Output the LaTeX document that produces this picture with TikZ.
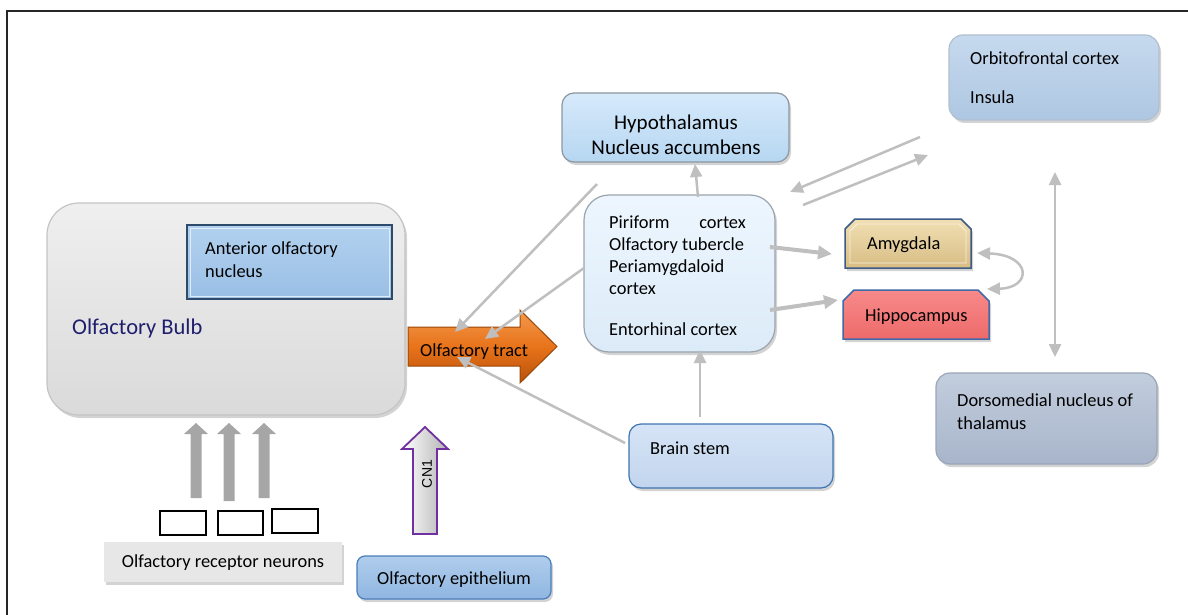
\documentclass[tikz,border=0pt]{standalone}
\usepackage{fontspec}
\setmainfont{Carlito}
\newfontfamily\arialf{Liberation Sans}
\usetikzlibrary{shadows,arrows.meta,calc}
\definecolor{cgray}{HTML}{BFBFBF}
\definecolor{agray}{HTML}{A6A6A6}
\definecolor{bulbA}{HTML}{EFEFEF}
\definecolor{bulbB}{HTML}{DADADA}
\definecolor{bulbD}{HTML}{C4C4C4}
\definecolor{aonA}{HTML}{B3D1EF}
\definecolor{aonB}{HTML}{99BFE5}
\definecolor{aonD}{HTML}{2F4B6B}
\definecolor{trA}{HTML}{F39A4E}
\definecolor{trM}{HTML}{E8731A}
\definecolor{trB}{HTML}{B9520B}
\definecolor{trD}{HTML}{984807}
\definecolor{cenA}{HTML}{EDF6FE}
\definecolor{cenB}{HTML}{DCEBF8}
\definecolor{cenD}{HTML}{9BA4AD}
\definecolor{hypA}{HTML}{D6EAFB}
\definecolor{hypB}{HTML}{B6D6F1}
\definecolor{hypD}{HTML}{8C96A0}
\definecolor{orbA}{HTML}{C6D9EE}
\definecolor{orbB}{HTML}{AEC7E2}
\definecolor{orbD}{HTML}{B0C0D0}
\definecolor{amyA}{HTML}{F0DFB4}
\definecolor{amyB}{HTML}{D8BD84}
\definecolor{amyD}{HTML}{3B5B86}
\definecolor{hipA}{HTML}{F88A8A}
\definecolor{hipB}{HTML}{EE6A6A}
\definecolor{hipD}{HTML}{4169A8}
\definecolor{dmA}{HTML}{C2CDDD}
\definecolor{dmB}{HTML}{A8B5CA}
\definecolor{dmD}{HTML}{9AA6B8}
\definecolor{bsA}{HTML}{D6E4F6}
\definecolor{bsB}{HTML}{C2D5EE}
\definecolor{bsD}{HTML}{3F74B0}
\definecolor{epA}{HTML}{B0CDEC}
\definecolor{epB}{HTML}{8FB6E1}
\definecolor{epD}{HTML}{4A7EBB}
\definecolor{ornF}{HTML}{E7E7E7}
\definecolor{navy}{HTML}{1F1F6E}
\definecolor{cnD}{HTML}{7030A0}
\tikzset{
  sh/.style={drop shadow={shadow xshift=2pt,shadow yshift=-3pt,opacity=0.35}},
  boxbase/.style={sh, inner sep=0pt, line width=1.2pt},
  conn/.style={draw=cgray, line width=2.5pt, -{Triangle[length=13pt,width=12pt]}},
  bigconn/.style={draw=cgray, line width=4pt, -{Triangle[length=14pt,width=13pt]}},
  dconn/.style={draw=cgray, line width=2.5pt, {Triangle[length=13pt,width=12pt]}-{Triangle[length=13pt,width=12pt]}},
  txt/.style={anchor=base west, inner sep=0pt},
  ctxt/.style={anchor=base, inner sep=0pt},
  neuron/.style={draw=black, line width=1.6pt, fill=white, inner sep=0pt},
  blockarrow/.style={fill=agray, draw=none},
}
\begin{document}
\begin{tikzpicture}[x=1pt,y=-1pt,font=\fontsize{18.4}{22}\selectfont]
\useasboundingbox (0,0) rectangle (1188,615);
\draw[line width=1.3pt, black!85] (7,615) -- (7,11) -- (1188,11);

% Olfactory bulb
\node[boxbase, draw=bulbD, top color=bulbA, bottom color=bulbB, rounded corners=32pt,
      minimum width=358pt, minimum height=212pt] (bulb) at (226,309) {};
\node[txt, text=navy, font=\fontsize{22.5}{26}\selectfont] (bulbT) at (72,334) {Olfactory Bulb};
% Anterior olfactory nucleus
\node[inner sep=0pt, draw=aonD, line width=1.8pt, top color=aonA, bottom color=aonB,
      minimum width=205pt, minimum height=74pt] (aon) at (289.5,262) {};
\draw[white!70!aonB, line width=0.8pt] ($(aon.north west)+(4,4)$) rectangle ($(aon.south east)+(-4,-4)$);
\node[txt] (aonT1) at (205,254) {Anterior olfactory};
\node[txt] (aonT2) at (205,277) {nucleus};

% Olfactory tract arrow
\draw[draw=trD, line width=1pt, top color=trA, bottom color=trB, middle color=trM]
  (408,327) -- (520,327) -- (520,310) -- (557,346.5) -- (520,383) -- (520,366) -- (408,366) -- cycle;
\node[txt] (tract) at (420,356) {Olfactory tract};

% Central cortex box
\node[boxbase, draw=cenD, top color=cenA, bottom color=cenB, rounded corners=25pt,
      minimum width=191pt, minimum height=157pt] (cortex) at (679.5,273.5) {};
\node[txt] (cT1a) at (609,228) {Piriform};
\node[anchor=base east, inner sep=0pt] (cT1b) at (746,228) {cortex};
\node[txt] (cT2) at (609,250) {Olfactory tubercle};
\node[txt] (cT3) at (609,272) {Periamygdaloid};
\node[txt] (cT4) at (609,294) {cortex};
\node[txt] (cT5) at (609,335) {Entorhinal cortex};

% Hypothalamus
\node[boxbase, draw=hypD, top color=hypA, bottom color=hypB, rounded corners=12pt,
      minimum width=227pt, minimum height=69pt] (hypo) at (675.5,127.5) {};
\node[ctxt, font=\fontsize{21}{24}\selectfont] (hypoT1) at (676,130) {Hypothalamus};
\node[ctxt, font=\fontsize{21}{24}\selectfont] (hypoT2) at (676,154) {Nucleus accumbens};

% Orbitofrontal
\node[boxbase, draw=orbD, top color=orbA, bottom color=orbB, rounded corners=14pt,
      minimum width=210pt, minimum height=85pt] (orbi) at (1054,77.5) {};
\node[txt] (orbiT1) at (970,65) {Orbitofrontal cortex};
\node[txt] (orbiT2) at (970,104) {Insula};

% Amygdala
\draw[draw=amyD, line width=1.5pt, top color=amyA, bottom color=amyB, sh]
  (845,268) -- (845,229) -- (855,219) -- (961,219) -- (971,229) -- (971,268) -- cycle;
\draw[white!55!amyA, line width=0.8pt] (850,263) -- (850,231) -- (857,224) -- (959,224) -- (966,231) -- (966,263) -- cycle;
\node[inner sep=0pt, minimum width=126pt, minimum height=49pt] (amyg) at (908,243.5) {};
\node[txt] (amygT) at (867,249) {Amygdala};

% Hippocampus
\draw[draw=hipD, line width=1.5pt, top color=hipA, bottom color=hipB, sh]
  (843,339) -- (843,301) -- (854,290) -- (978,290) -- (989,301) -- (989,339) -- cycle;
\node[inner sep=0pt, minimum width=146pt, minimum height=49pt] (hippo) at (916,314.5) {};
\node[txt] (hippoT) at (865,321) {Hippocampus};

% Dorsomedial nucleus
\node[boxbase, draw=dmD, top color=dmA, bottom color=dmB, rounded corners=14pt,
      minimum width=221pt, minimum height=91pt] (dmn) at (1046.5,418.5) {};
\node[txt] (dmnT1) at (957,406) {Dorsomedial nucleus of};
\node[txt] (dmnT2) at (957,429) {thalamus};

% Brain stem
\node[boxbase, draw=bsD, top color=bsA, bottom color=bsB, rounded corners=12pt,
      minimum width=204pt, minimum height=64pt] (bstem) at (731,456) {};
\node[txt] (bstemT) at (650,454) {Brain stem};

% Olfactory epithelium
\node[boxbase, draw=epD, top color=epA, bottom color=epB, rounded corners=8pt,
      minimum width=194pt, minimum height=43pt] (epi) at (454,577.5) {};
\node[ctxt] (epiT) at (454,584) {Olfactory epithelium};

% Olfactory receptor neurons
\node[sh, inner sep=0pt, fill=ornF, minimum width=238pt, minimum height=40pt] (orn) at (223,562) {};
\node[ctxt] (ornT) at (223,567) {Olfactory receptor neurons};

% small neuron rectangles
\node[neuron, minimum width=46pt, minimum height=24pt] (n1) at (183,523) {};
\node[neuron, minimum width=45pt, minimum height=24pt] (n2) at (240.5,523) {};
\node[neuron, minimum width=46pt, minimum height=24pt] (n3) at (295,521) {};

% block arrows from neurons to bulb
\foreach \cx/\by in {196/498, 229/501, 264/498}{
  \fill[blockarrow] (\cx-5.5,\by) -- (\cx-5.5,434) -- (\cx-12,434) -- (\cx,423) -- (\cx+12,434) -- (\cx+5.5,434) -- (\cx+5.5,\by) -- cycle;
}

% CN1 arrow
\draw[draw=cnD, line width=1.8pt, left color=white, right color=black!30]
  (413,534) -- (413,449) -- (402,449) -- (425,427) -- (448,449) -- (437,449) -- (437,534) -- cycle;
\node[rotate=90, inner sep=0pt, font=\arialf\fontsize{14}{16}\selectfont] (cn1) at (427,474) {CN1};

% connector end points
\coordinate (hypoL) at (597,184);
\coordinate (tractA) at (455,332);
\coordinate (cortexL) at (584,268);
\coordinate (tractB) at (485,339);
\coordinate (bstemL) at (625,443);
\coordinate (tractC) at (457,357);
\coordinate (orbiA) at (920,137);
\coordinate (cortexTR) at (790,192);
\coordinate (cortexTR2) at (803,205);
\coordinate (orbiB) at (928,155);
\coordinate (orbiC) at (1055,172);
\coordinate (dmnC) at (1055,357);
\coordinate (amygR) at (977,253);
\coordinate (hippoR) at (987,289);
\coordinate (bstemT) at (700,417);
\coordinate (cortexB) at (700,350);
\coordinate (cortexT) at (698,197);
\coordinate (hypoB) at (695,164);
\coordinate (cortexR1) at (770,247);
\coordinate (amygL) at (832,254);
\coordinate (cortexR2) at (770,310);
\coordinate (hippoL) at (838,300);

\draw[conn] (hypoL) -- (tractA);
\draw[conn] (cortexL) -- (tractB);
\draw[conn] (bstemL) -- (tractC);
\draw[conn] (bstemT) -- (cortexB);
\draw[conn] (cortexT) -- (hypoB);
\draw[conn] (orbiA) -- (cortexTR);
\draw[conn] (cortexTR2) -- (orbiB);
\draw[dconn] (orbiC) -- (dmnC);
\draw[bigconn] (cortexR1) -- (amygL);
\draw[bigconn] (cortexR2) -- (hippoL);
\draw[dconn] (amygR) .. controls (1032,255) and (1032,288) .. (hippoR);
\end{tikzpicture}
\end{document}
